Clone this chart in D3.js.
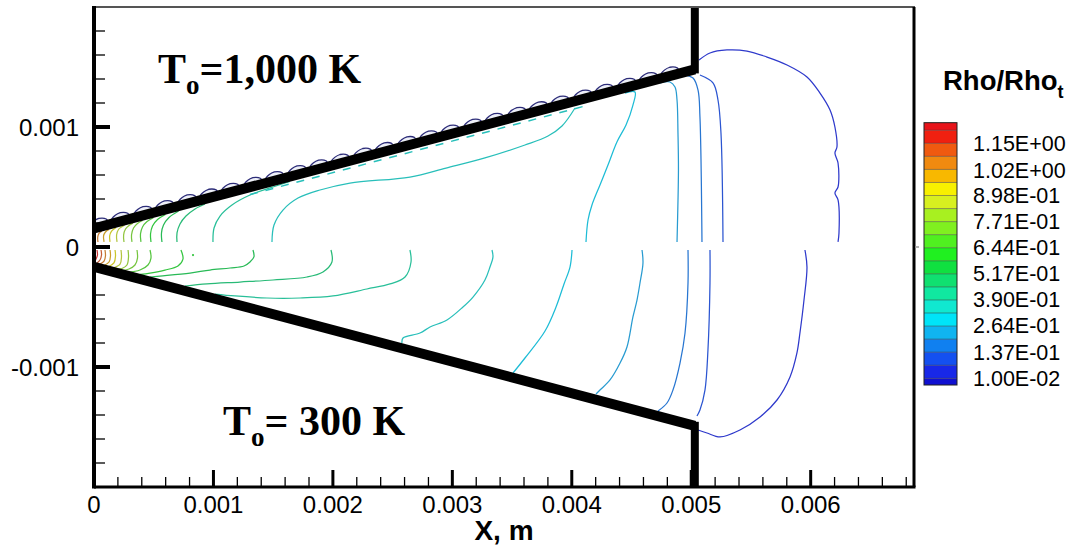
<!DOCTYPE html>
<html><head><meta charset="utf-8">
<script src="https://cdn.jsdelivr.net/npm/d3@7"></script>
<style>
html,body{margin:0;padding:0;background:#fff;}
svg{display:block;}
text.sans{font-family:"Liberation Sans",Arial,Helvetica,sans-serif;}
text.serif{font-family:"Liberation Serif","Times New Roman",Times,serif;}
</style></head>
<body>
<svg id="chart" width="1073" height="545"></svg>
<script>
// ---- axis ranges (metres) and tick labels ----
const xDomain = [0, 0.006865];
const yDomain = [-0.002, 0.002];
const xTicks = [0, 0.001, 0.002, 0.003, 0.004, 0.005, 0.006];
const xTickLabels = ["0", "0.001", "0.002", "0.003", "0.004", "0.005", "0.006"];
const yTicks = [-0.001, 0, 0.001];
const yTickLabels = ["-0.001", "0", "0.001"];
const minorStep = 0.0002;

// ---- contour levels of Rho/Rho_t and the colour of each band (bottom to top) ----
const levels = [0.01, 0.0733, 0.1367, 0.2, 0.2633, 0.3267, 0.39, 0.4533, 0.5167, 0.58,
                0.6433, 0.7067, 0.77, 0.8333, 0.8967, 0.96, 1.0233, 1.0867, 1.15, 1.2133];
const bandColors = ["#1010d0", "#1828e8", "#1450f0", "#1080f0", "#10b4f0", "#00e4f8", "#10e8d0",
                    "#10e8a0", "#10e070", "#10e040", "#20f020", "#50f020", "#80f020", "#a8f020",
                    "#d8f020", "#f8f000", "#f8b800", "#f08a10", "#f05a10", "#f02010", "#e8141a"];
const legendValues = [1.15, 1.02, 0.898, 0.771, 0.644, 0.517, 0.390, 0.264, 0.137, 0.010];
const legendLabels = ["1.15E+00", "1.02E+00", "8.98E-01", "7.71E-01", "6.44E-01",
                      "5.17E-01", "3.90E-01", "2.64E-01", "1.37E-01", "1.00E-02"];
const legendRange = [-0.0225, 1.25];

// ---- nozzle walls (mm) ----
const upperWall = [[0, 0.155], [5.03, 1.48], [5.03, 2.0]];
const lowerWall = [[0, -0.165], [5.03, -1.49], [5.03, -2.0]];
// low-density cells along the outer face of the upper wall (mm along x)
const wallBumps = [0.05, 0.23, 0.42, 0.6, 0.79, 0.97, 1.15, 1.34, 1.52, 1.71, 1.89, 2.07, 2.26, 2.44,
                   2.63, 2.81, 2.99, 3.18, 3.36, 3.55, 3.73, 3.91, 4.1, 4.28, 4.47, 4.65, 4.83];
// broken contour hugging the inner face of the upper wall (mm)
const wallFilm = [[1.306, 0.437], [4.152, 1.186]];

// ---- density contours, T0 = 1000 K half (mm) ----
const upperContours = [
  {level: 1.0233, pts: [[0.033,0.042],[0.031,0.083],[0.042,0.113],[0.065,0.131]]},
  {level: 0.96,   pts: [[0.084,0.042],[0.08,0.092],[0.096,0.125],[0.126,0.147]]},
  {level: 0.8967, pts: [[0.134,0.042],[0.131,0.092],[0.147,0.133],[0.186,0.163]]},
  {level: 0.8333, pts: [[0.193,0.042],[0.189,0.1],[0.205,0.146],[0.23,0.167],[0.256,0.181]]},
  {level: 0.77,   pts: [[0.251,0.042],[0.248,0.1],[0.264,0.15],[0.293,0.179],[0.326,0.199]]},
  {level: 0.7067, pts: [[0.318,0.042],[0.314,0.1],[0.331,0.158],[0.364,0.196],[0.407,0.221]]},
  {level: 0.6433, pts: [[0.393,0.042],[0.389,0.108],[0.406,0.167],[0.444,0.212],[0.497,0.244]]},
  {level: 0.58,   pts: [[0.477,0.042],[0.473,0.108],[0.49,0.175],[0.532,0.229],[0.598,0.271]]},
  {level: 0.5167, pts: [[0.569,0.042],[0.565,0.117],[0.582,0.183],[0.628,0.246],[0.708,0.3]]},
  {level: 0.4533, pts: [[0.695,0.042],[0.695,0.117],[0.72,0.192],[0.77,0.258],[0.846,0.317],[0.929,0.358]]},
  {level: 0.39,   pts: [[0.996,0.042],[1.005,0.158],[1.055,0.258],[1.155,0.35],[1.306,0.433],[1.473,0.492],[1.641,0.546]]},
  {level: 0.3267, pts: [[1.49,0.042],[1.507,0.183],[1.582,0.308],[1.708,0.408],[1.892,0.475],[2.143,0.533],
                        [2.645,0.583],[2.947,0.658],[3.273,0.742],[3.608,0.85],[3.801,0.925],[3.918,1.008],[4.027,1.158]]},
  {level: 0.2633, pts: [[4.445,1.283],[4.529,1.292],[4.512,1.183],[4.454,1.017],[4.378,0.875],[4.303,0.683],
                        [4.236,0.517],[4.169,0.35],[4.136,0.225],[4.119,0.042]]},
  {level: 0.2,    pts: [[4.738,1.367],[4.822,1.375],[4.864,1.333],[4.881,1.225],[4.889,0.95],[4.893,0.642],[4.881,0.042]]},
  {level: 0.1367, pts: [[4.948,1.433],[5.015,1.408],[5.057,1.308],[5.073,1.083],[5.09,0.042]]},
  {level: 0.0733, pts: [[5.073,1.433],[5.182,1.367],[5.224,1.225],[5.249,0.95],[5.266,0.042]]},
  {level: 0.01,   pts: [[5.065,1.558],[5.157,1.617],[5.299,1.642],[5.467,1.633],[5.634,1.583],[5.802,1.517],
                        [5.969,1.417],[6.078,1.283],[6.162,1.142],[6.203,1.0],[6.22,0.833],[6.203,0.783],
                        [6.229,0.7],[6.229,0.5],[6.203,0.45],[6.229,0.392],[6.237,0.117],[6.229,0.042]]}
];

// ---- density contours, T0 = 300 K half (mm) ----
const lowerContours = [
  {level: 1.15,   pts: [[0.025,-0.025],[0.029,-0.067],[0.017,-0.1],[0.004,-0.125]]},
  {level: 1.0867, pts: [[0.059,-0.025],[0.063,-0.067],[0.05,-0.108],[0.025,-0.133]]},
  {level: 1.0233, pts: [[0.092,-0.025],[0.096,-0.075],[0.084,-0.117],[0.05,-0.142]]},
  {level: 0.96,   pts: [[0.134,-0.025],[0.138,-0.075],[0.126,-0.125],[0.084,-0.154]]},
  {level: 0.8967, pts: [[0.176,-0.025],[0.18,-0.075],[0.167,-0.133],[0.117,-0.167]]},
  {level: 0.8333, pts: [[0.226,-0.025],[0.23,-0.083],[0.218,-0.142],[0.159,-0.175]]},
  {level: 0.77,   pts: [[0.285,-0.025],[0.289,-0.083],[0.276,-0.15],[0.234,-0.179],[0.201,-0.183]]},
  {level: 0.7067, pts: [[0.36,-0.025],[0.364,-0.092],[0.343,-0.15],[0.293,-0.183],[0.243,-0.196]]},
  {level: 0.6433, pts: [[0.469,-0.025],[0.477,-0.092],[0.452,-0.15],[0.385,-0.192],[0.285,-0.212]]},
  {level: 0.58,   pts: [[0.728,-0.025],[0.745,-0.1],[0.703,-0.158],[0.594,-0.192],[0.469,-0.217],[0.385,-0.229]]},
  {level: 0.5167, pts: [[1.331,-0.025],[1.339,-0.083],[1.306,-0.125],[1.256,-0.158],[1.139,-0.175],[0.971,-0.192],
                        [0.804,-0.217],[0.553,-0.242],[0.469,-0.25]]},
  {level: 0.4533, pts: [[1.984,-0.025],[1.992,-0.125],[1.917,-0.208],[1.783,-0.25],[1.499,-0.275],[1.222,-0.292],
                        [0.946,-0.308],[0.762,-0.325]]},
  {level: 0.39,   pts: [[2.645,-0.025],[2.654,-0.125],[2.604,-0.25],[2.478,-0.308],[2.285,-0.35],[2.001,-0.408],
                        [1.725,-0.425],[1.448,-0.425],[1.18,-0.408],[1.013,-0.392]]},
  {level: 0.3267, pts: [[3.332,-0.025],[3.34,-0.083],[3.315,-0.167],[3.273,-0.275],[3.173,-0.417],[3.089,-0.5],
                        [2.955,-0.608],[2.813,-0.667],[2.729,-0.717],[2.587,-0.758],[2.578,-0.8]]},
  {level: 0.2633, pts: [[4.002,-0.025],[3.985,-0.167],[3.935,-0.308],[3.868,-0.5],[3.776,-0.7],[3.608,-0.925],[3.508,-1.05]]},
  {level: 0.2,    pts: [[4.588,-0.025],[4.596,-0.133],[4.571,-0.3],[4.546,-0.442],[4.512,-0.583],[4.462,-0.833],
                        [4.404,-0.967],[4.32,-1.108],[4.236,-1.192],[4.203,-1.225]]},
  {level: 0.1367, pts: [[4.973,-0.025],[4.973,-0.3],[4.948,-0.717],[4.906,-0.967],[4.847,-1.192],[4.797,-1.3],[4.722,-1.367]]},
  {level: 0.0733, pts: [[5.157,-0.025],[5.157,-0.3],[5.14,-0.858],[5.115,-1.192],[5.073,-1.358],[5.048,-1.408]]},
  {level: 0.01,   pts: [[5.952,-0.025],[5.969,-0.167],[5.944,-0.442],[5.91,-0.717],[5.885,-0.883],[5.827,-1.083],
                        [5.718,-1.275],[5.576,-1.417],[5.408,-1.525],[5.241,-1.583],[5.132,-1.55],[5.057,-1.525]]}
];
const isolatedPoints = [[0.829, -0.067]];

// ---- layout ----
const MM = 1e-3;
const plot = {left: 94, right: 914, top: 7, bottom: 487};
const svg = d3.select("#chart");
svg.append("rect").attr("width", 1073).attr("height", 545).attr("fill", "#fff");

const x = d3.scaleLinear().domain(xDomain).range([plot.left, plot.right]);
const y = d3.scaleLinear().domain(yDomain).range([plot.bottom, plot.top]);
const bandColor = d3.scaleThreshold().domain(levels).range(bandColors);
const lineColor = lev => d3.interpolateRgb(bandColor(lev), "#606088")(0.3);

svg.append("defs").append("clipPath").attr("id", "plotClip")
  .append("rect").attr("x", plot.left).attr("y", plot.top)
  .attr("width", plot.right - plot.left).attr("height", plot.bottom - plot.top);

const body = svg.append("g").attr("clip-path", "url(#plotClip)");
const px = d => x(d[0] * MM), py = d => y(d[1] * MM);
const contourLine = d3.line().x(px).y(py).curve(d3.curveCatmullRom.alpha(0.5));

// contour lines
body.append("g").selectAll("path")
  .data(upperContours.concat(lowerContours))
  .join("path")
  .attr("d", d => contourLine(d.pts))
  .attr("fill", "none")
  .attr("stroke", d => lineColor(d.level))
  .attr("stroke-width", 1.25)
  .attr("stroke-linejoin", "round");

body.selectAll("circle.pt").data(isolatedPoints).join("circle")
  .attr("class", "pt").attr("cx", px).attr("cy", py).attr("r", 1.1)
  .attr("fill", lineColor(0.58));

// broken contour on the inner face of the upper wall
body.append("path")
  .attr("d", d3.line().x(px).y(py)(wallFilm))
  .attr("fill", "none").attr("stroke", lineColor(0.3267))
  .attr("stroke-width", 1.5).attr("stroke-dasharray", "8 8");

// low-density cells on the outer face of the upper wall
const wallX = d3.scaleLinear().domain([upperWall[0][0], upperWall[1][0]]).range([upperWall[0][1], upperWall[1][1]]);
const wallAngle = Math.atan2(py(upperWall[1]) - py(upperWall[0]), px(upperWall[1]) - px(upperWall[0])) * 180 / Math.PI;
const bumps = body.append("g").selectAll("g").data(wallBumps).join("g")
  .attr("transform", b => `translate(${px([b, 0])},${py([0, wallX(b)])}) rotate(${wallAngle})`);
bumps.append("path")
  .attr("d", "M-9,-4.5 Q-5,-8 1,-8.5 Q6,-8 8,-6 L9,-4.5")
  .attr("fill", "#eef0f8").attr("stroke", "#2c2c78").attr("stroke-width", 1.3);

// nozzle walls
const wallLine = d3.line().x(px).y(py).curve(d3.curveLinear);
[upperWall, lowerWall].forEach(w => {
  body.append("path").attr("d", wallLine(w.slice(0, 2)))
    .attr("fill", "none").attr("stroke", "#000").attr("stroke-width", 10).attr("stroke-linecap", "butt");
  body.append("path").attr("d", wallLine(w.slice(1)))
    .attr("fill", "none").attr("stroke", "#000").attr("stroke-width", 8).attr("stroke-linecap", "square");
});

// ---- axes ----
const xMinor = d3.range(0, xDomain[1], minorStep);
const yMinor = d3.range(yDomain[0], yDomain[1] + 1e-9, minorStep);

const axisG = svg.append("g");
axisG.selectAll("line.xminor").data(xMinor).join("line")
  .attr("x1", d => x(d)).attr("x2", d => x(d)).attr("y1", plot.bottom).attr("y2", plot.bottom - 10)
  .attr("stroke", "#000").attr("stroke-width", 1.3);
axisG.selectAll("line.yminor").data(yMinor).join("line")
  .attr("y1", d => y(d)).attr("y2", d => y(d)).attr("x1", plot.left).attr("x2", plot.left + 11)
  .attr("stroke", "#000").attr("stroke-width", 1.3);
axisG.selectAll("line.xmajor").data(xTicks).join("line")
  .attr("x1", d => x(d)).attr("x2", d => x(d)).attr("y1", plot.bottom).attr("y2", plot.bottom - 17)
  .attr("stroke", "#000").attr("stroke-width", 3);
axisG.selectAll("line.ymajor").data(yTicks).join("line")
  .attr("y1", d => y(d)).attr("y2", d => y(d)).attr("x1", plot.left).attr("x2", plot.left + 16)
  .attr("stroke", "#000").attr("stroke-width", 4);

// frame
svg.append("line").attr("x1", plot.left).attr("x2", plot.right + 1).attr("y1", plot.top).attr("y2", plot.top)
  .attr("stroke", "#555").attr("stroke-width", 2);
svg.append("line").attr("x1", plot.right).attr("x2", plot.right).attr("y1", plot.top).attr("y2", plot.bottom)
  .attr("stroke", "#000").attr("stroke-width", 3);
svg.append("line").attr("x1", plot.left).attr("x2", plot.right + 1.5).attr("y1", plot.bottom).attr("y2", plot.bottom)
  .attr("stroke", "#000").attr("stroke-width", 3);
svg.append("line").attr("x1", plot.left).attr("x2", plot.left).attr("y1", plot.top - 1).attr("y2", plot.bottom + 1.5)
  .attr("stroke", "#000").attr("stroke-width", 4);
svg.append("line").attr("x1", plot.right + 1).attr("x2", plot.right + 5).attr("y1", y(0)).attr("y2", y(0))
  .attr("stroke", "#999").attr("stroke-width", 1.5);

// tick labels
svg.append("g").selectAll("text").data(xTicks).join("text")
  .attr("class", "sans")
  .attr("x", d => x(d)).attr("y", 513)
  .attr("text-anchor", "middle").attr("font-size", 24).attr("fill", "#000")
  .text((d, i) => xTickLabels[i]);
svg.append("g").selectAll("text").data(yTicks).join("text")
  .attr("class", "sans")
  .attr("x", 79).attr("y", d => y(d) + 8.5)
  .attr("text-anchor", "end").attr("font-size", 24).attr("fill", "#000")
  .text((d, i) => yTickLabels[i]);

svg.append("text").attr("class", "sans").attr("x", 504).attr("y", 540).attr("text-anchor", "middle")
  .attr("font-size", 28).attr("font-weight", "bold").text("X, m");

// case labels
function caseLabel(xp, yp, rest) {
  const t = svg.append("text").attr("class", "serif").attr("x", xp).attr("y", yp)
    .attr("font-weight", "bold").attr("font-size", 42).attr("fill", "#000");
  t.append("tspan").text("T");
  t.append("tspan").attr("font-size", 27).attr("dy", 11).text("o");
  t.append("tspan").attr("dy", -11).text(rest);
}
caseLabel(158, 83, "=1,000 K");
caseLabel(223, 435, "= 300 K");

// ---- colour legend ----
const leg = {x: 924, w: 33};
const ly = d3.scaleLinear().domain([1.15, 0.01]).range([143.3, 378.3]);
const bounds = [legendRange[0]].concat(levels, [legendRange[1]]);
const lg = svg.append("g");
lg.selectAll("rect").data(bandColors).join("rect")
  .attr("x", leg.x).attr("width", leg.w)
  .attr("y", (c, i) => ly(bounds[i + 1]))
  .attr("height", (c, i) => ly(bounds[i]) - ly(bounds[i + 1]))
  .attr("fill", c => c);
lg.selectAll("line").data(levels).join("line")
  .attr("x1", leg.x).attr("x2", leg.x + leg.w)
  .attr("y1", d => ly(d)).attr("y2", d => ly(d))
  .attr("stroke", "#333").attr("stroke-width", 0.7).attr("stroke-opacity", 0.7);
lg.append("rect").attr("x", leg.x).attr("y", ly(legendRange[1])).attr("width", leg.w)
  .attr("height", ly(legendRange[0]) - ly(legendRange[1]))
  .attr("fill", "none").attr("stroke", "#222").attr("stroke-width", 1);
lg.selectAll("text").data(legendValues).join("text")
  .attr("class", "sans")
  .attr("x", 973).attr("y", d => ly(d) + 7.5)
  .attr("font-size", 21.5).attr("fill", "#000")
  .text((d, i) => legendLabels[i]);

const title = svg.append("text").attr("class", "sans").attr("x", 943).attr("y", 90)
  .attr("font-size", 27.5).attr("font-weight", "bold").attr("fill", "#000");
title.append("tspan").text("Rho/Rho");
title.append("tspan").attr("font-size", 18).attr("dy", 8).text("t");
</script>
</body></html>
